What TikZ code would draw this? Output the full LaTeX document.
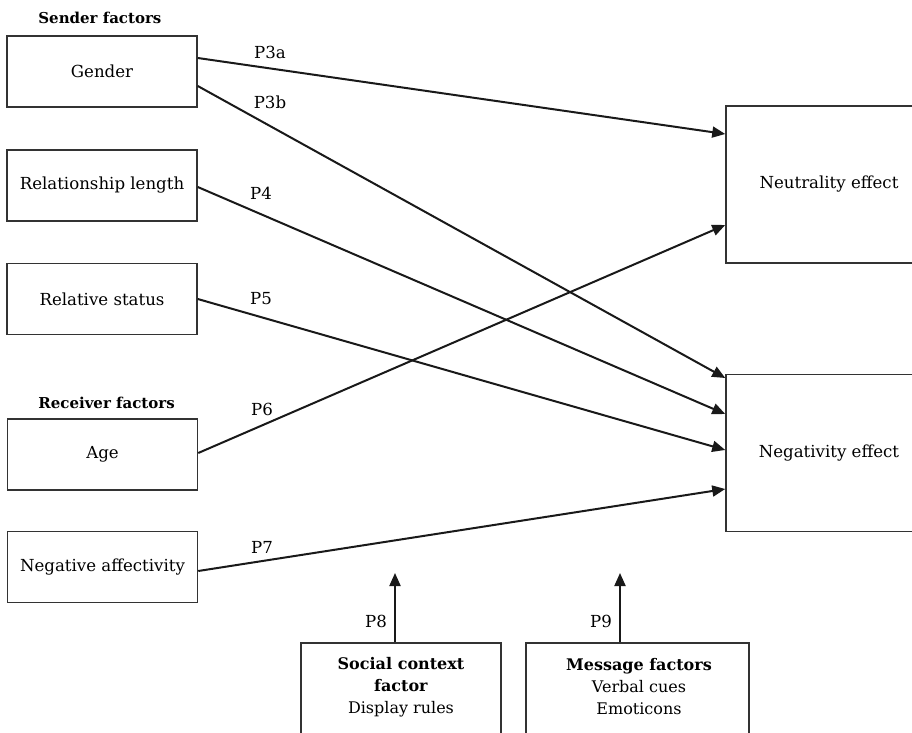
\documentclass[tikz,border=0pt]{standalone}
\usepackage{fontspec}
\setmainfont{DejaVu Serif}
\usetikzlibrary{arrows.meta,calc}
\tikzset{
  fbox/.style={draw=black!80,line width=0.75pt,minimum width=95pt,minimum height=35.5pt,inner sep=0pt,font=\fontsize{8.3}{9}\selectfont},
  bigbox/.style={draw=black!80,line width=0.75pt,minimum width=103pt,minimum height=78.5pt,inner sep=0pt,font=\fontsize{8.3}{9}\selectfont},
  botbox/.style={draw=black!80,line width=0.75pt,minimum height=60pt,inner sep=0pt},
  arr/.style={draw=black!90,line width=1pt,-{Triangle[length=6.5pt,width=5.5pt]}},
  plab/.style={font=\fontsize{8.3}{9}\selectfont,inner sep=0pt},
  head/.style={font=\bfseries\fontsize{7.5}{9}\selectfont,anchor=west,inner sep=0pt},
  btext/.style={font=\fontsize{8}{11}\selectfont,align=center,inner sep=0pt}
}
\begin{document}
\begin{tikzpicture}[x=0.5pt,y=-0.5pt]
\useasboundingbox (0,0) rectangle (912,733);
\clip (0,0) rectangle (912,733);
% headings
\node[head] (hsend) at (38,18) {Sender factors};
\node[head] (hrec) at (38,403) {Receiver factors};
% left boxes
\node[fbox] (gender) at (102,71.5) {Gender};
\node[fbox] (rel) at (102,185.5) {Relationship length};
\node[fbox] (stat) at (102,299) {Relative status};
\node[fbox] (age) at (102.5,454.5) {Age};
\node[fbox] (naff) at (102.5,567) {Negative affectivity};
% right boxes
\node[bigbox] (neut) at (829,184.5) {Neutrality effect};
\node[bigbox] (neg) at (829,453) {Negativity effect};
% bottom boxes
\node[botbox,minimum width=100pt] (soc) at (401,703) {};
\node[btext] (soctxt) at (401,687) {\textbf{Social context}\\\textbf{factor}\\Display rules};
\node[botbox,minimum width=111.5pt] (msg) at (637.5,703) {};
\node[btext] (msgtxt) at (639,687) {\textbf{Message factors}\\Verbal cues\\Emoticons};
% arrows to right boxes
\draw[arr] ($(gender.east)+(0,-13.5)$) -- ($(neut.west)+(0,-50.5)$);
\draw[arr] ($(gender.east)+(0,14.5)$) -- ($(neg.west)+(0,-75)$);
\draw[arr] ($(rel.east)+(0,1.5)$) -- ($(neg.west)+(0,-39)$);
\draw[arr] (stat.east) -- ($(neg.west)+(0,-3)$);
\draw[arr] ($(age.east)+(0,-1.5)$) -- ($(neut.west)+(0,40.5)$);
\draw[arr] ($(naff.east)+(0,4)$) -- ($(neg.west)+(0,36)$);
% up arrows
\coordinate (up8) at (395,573);
\coordinate (up9) at (620,573);
\draw[arr] (soc.north -| up8) -- (up8);
\draw[arr] (msg.north -| up9) -- (up9);
% labels
\node[plab] (l3a) at (270,52) {P3a};
\node[plab] (l3b) at (270,102) {P3b};
\node[plab] (l4) at (261,193) {P4};
\node[plab] (l5) at (261,299) {P5};
\node[plab] (l6) at (262,409) {P6};
\node[plab] (l7) at (262,547) {P7};
\node[plab] (l8) at (376,621) {P8};
\node[plab] (l9) at (601,621) {P9};
\end{tikzpicture}
\end{document}
